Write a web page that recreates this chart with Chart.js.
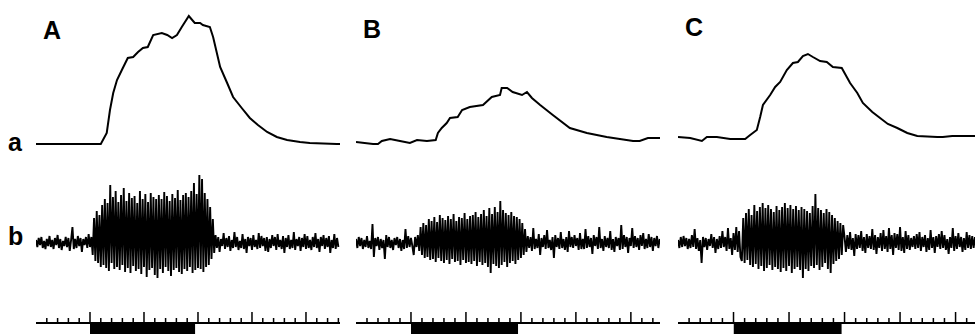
<!DOCTYPE html>
<html>
<head>
<meta charset="utf-8">
<script src="https://cdn.jsdelivr.net/npm/chart.js@4"></script>
<style>
  body { margin: 0; background: #fff; width: 975px; height: 334px; overflow: hidden; position: relative; }
  canvas { position: absolute; top: 0; }
  .lbl { position: absolute; font-family: "Liberation Sans", Arial, sans-serif; font-weight: bold; font-size: 25px; color: #000; line-height: 1; }
</style>
</head>
<body>
<div class="lbl" style="left:43px;top:18px;">A</div>
<div class="lbl" style="left:363px;top:17px;">B</div>
<div class="lbl" style="left:685px;top:15px;">C</div>
<div class="lbl" style="left:8px;top:130px;">a</div>
<div class="lbl" style="left:8px;top:224px;">b</div>
<canvas id="panelA" width="304" height="334" style="left:36px"></canvas>
<canvas id="panelB" width="304" height="334" style="left:356px"></canvas>
<canvas id="panelC" width="297" height="334" style="left:678px"></canvas>
<script>
// time in s, force (a) in arbitrary units, EMG (b) in arbitrary units sampled every 0.025 s
const emgStep = 0.025;

// stimulus timing + time scale ticks
const stimOn = 1.0;
const stimOff = 2.95;
const scaleMajor = [1, 2, 3, 4, 5];
const scaleMinor = [0.2, 0.4, 0.6, 0.8, 1.2, 1.4, 1.6, 1.8, 2.2, 2.4, 2.6, 2.8,
  3.2, 3.4, 3.6, 3.8, 4.2, 4.4, 4.6, 4.8, 5.2, 5.4, 5.6];

// Panel A
const forceTimeA = [0, 1.20, 1.31, 1.37, 1.43, 1.50, 1.59, 1.70, 1.80, 1.89, 1.98, 2.07, 2.17, 2.33, 2.43,
  2.52, 2.61, 2.70, 2.83, 2.94, 3.04, 3.09, 3.22, 3.28, 3.41, 3.54, 3.65, 3.81, 3.96, 4.11, 4.28,
  4.46, 4.65, 4.89, 5.07, 5.57, 5.63];
const forceA = [0, 0, 11, 34, 51, 64, 74, 86, 87, 92, 96, 97, 109, 111, 109,
  106, 109, 117, 128, 121, 121, 119, 117, 107, 77, 61, 47, 36, 26, 19, 12,
  7, 4, 2, 1, 0, 0];
const emgA = [
  3, -4, 5, -2, 6, -5, 2, -6, 4, -3,
  7, -4, 3, -6, 5, -2, 8, -5, 4, -7,
  2, -3, 6, -4, 5, -8, 3, 16, -6, 4,
  -5, 7, -3, 5, -9, 4, -2, 6, -5, 9, -4, 6,
  -12, 25, -18, 32, -20, 28, -24, 38, -22, 44,
  -25, 40, -28, 58, -20, 46, -26, 52, -24, 41,
  -27, 48, -22, 55, -29, 42, -25, 50, -30, 45,
  -23, 47, -28, 40, -26, 52, -31, 44, -24, 49,
  -34, 41, -27, 50, -25, 46, -32, 44, -35, 48,
  -26, 44, -30, 51, -24, 47, -28, 42, -33, 49,
  -27, 45, -25, 53, -29, 43, -31, 48, -26, 50,
  -28, 46, -24, 52, -30, 60, -27, 49, -25, 68,
  -26, 64, -29, 50, -24, 44, -22, 36, -16, 24, -10,
  8, -5, 6, -9, 4, -3, 10, -6, 5, -4,
  7, -8, 3, -5, 11, -4, 6, -7, 2, -5,
  9, -6, 4, -10, 6, -3, 5, -7, 8, -4,
  3, -6, 10, -5, 7, -3, 5, -8, 6, -9,
  4, -5, 8, -3, 6, -7, 9, -4, 3, -6,
  7, -10, 5, -4, 8, -6, 3, -5, 11, -7,
  4, -3, 6, -8, 5, -4, 9, -6, 7, -5,
  3, -7, 6, -4, 10, -5, 4, -9, 6, -3,
  8, -6, 5, -4, 7, -10, 3, -5, 9, -6,
  5, -4];

// Panel B
const forceTimeB = [0, 0.31, 0.40, 0.47, 0.62, 0.80, 0.98, 1.11, 1.29, 1.45, 1.49, 1.56, 1.65, 1.71, 1.85,
  1.93, 2.07, 2.31, 2.47, 2.62, 2.65, 2.75, 2.85, 3.02, 3.11, 3.20, 3.35, 3.58, 3.89, 4.20, 4.56,
  5.04, 5.16, 5.31, 5.53];
const forceB = [2, 0, 0, 3, 5, 3, 1, 4, 3, 4, 11, 16, 21, 26, 27,
  34, 37, 39, 47, 49, 56, 56, 52, 49, 52, 46, 39, 29, 16, 11, 7,
  3, 3, 6, 6];
const emgB = [
  4, -5, 6, -3, 5, -6, 3, -4, 7, -5,
  2, -6, 19, -14, 5, -3, 6, -7, 4, -5,
  3, -16, 8, -4, 6, -5, 3, -7, 5, -2,
  6, -5, 4, -8, 3, -6, 14, -5, 7, -4,
  5, -3, -12, 6, -4, 8,
  -8, 16, -12, 20, -15, 18, -14, 24, -17, 22,
  -16, 26, -19, 21, -15, 28, -18, 25, -20, 23,
  -17, 27, -21, 24, -16, 29, -19, 22, -18, 26,
  -22, 25, -17, 30, -20, 24, -19, 27, -21, 28,
  -18, 31, -23, 26, -19, 29, -22, 33, -20, 27,
  -24, 35, -30, 29, -21, 36, -23, 31, -25, 42,
  -22, 33, -19, 30, -24, 28, -20, 31, -18, 27,
  -21, 26, -17, 24, -15, 20, -12, 14, -9,
  7, -5, 6, -8, 15, -6, 4, -5, 9, -12,
  5, -4, 8, -6, 13, -5, 3, -7, 6, -15,
  8, -4, 5, -6, 11, -5, 4, -7, 6, -9,
  12, -4, 6, -5, 8, -3, 5, -7, 10, -6,
  4, -6, 14, -5, 7, -4, 5, -11, 8, -3,
  6, -6, 16, -5, 4, -8, 7, -4, 5, -5,
  12, -7, 4, -9, 6, -3, 5, -7, 18, -6,
  8, -4, 6, -10, 5, -3, 15, -5, 7, -4,
  5, -7, 8, -3, 10, -6, 4, -5, 9, -4,
  6, -8, 5, -3, 7, -5, 4];

// Panel C
const forceTimeC = [0, 0.22, 0.43, 0.52, 0.70, 0.94, 1.21, 1.30, 1.42, 1.48, 1.53, 1.66, 1.75, 1.84, 1.96,
  2.07, 2.16, 2.25, 2.34, 2.43, 2.56, 2.68, 2.79, 2.95, 3.10, 3.23, 3.33, 3.50, 3.64, 3.78, 3.95,
  4.13, 4.31, 4.67, 4.77, 4.94, 5.35];
const forceC = [7, 6, 3, 7, 7, 5, 5, 9, 14, 27, 39, 49, 57, 62, 74,
  81, 82, 88, 90, 87, 83, 82, 77, 76, 61, 51, 41, 32, 26, 20, 16,
  11, 8, 7, 7, 8, 8];
const emgC = [
  3, -5, 6, -4, 7, -3, 5, -6, 4, -5,
  8, -4, 14, -6, 5, -8, 3, -20, 6, -4,
  5, -7, 4, -3, 9, -5, 6, -10, 4, -6,
  7, -5, 12, -4, 6, -8, 15, -6, 5, -12,
  10, -7, 16, -9, 12, -14,
  -18, 25, -20, 30, -17, 34, -22, 28, -24, 38,
  -21, 32, -26, 36, -23, 40, -28, 35, -25, 38,
  -22, 34, -27, 31, -24, 37, -26, 33, -29, 36,
  -25, 40, -28, 35, -23, 38, -30, 34, -26, 37,
  -24, 33, -27, 36, -35, 34, -26, 32, -28, 30,
  -23, 37, -25, 49, -22, 35, -27, 33, -24, 30,
  -20, 34, -26, 31, -30, 28, -21, 25, -18, 22,
  -16, 20, -12, 18, 6,
  -9, 8, -6, 11, -7, 5, -13, 9, -6, 8,
  -5, 12, -8, 6, -10, 9, -5, 7, -6, 14,
  -7, 8, -11, 6, -5, 10, -8, 13, -6, 7,
  -9, 15, -6, 8, -12, 10, -5, 9, -7, 16,
  -8, 6, -10, 12, -6, 8, -7, 5, -4, 7,
  -6, 9, -5, 11, -8, 6, -4, 8, -9, 5,
  -7, 13, -5, 6, -10, 7, -4, 9, -6, 12,
  -5, 8, -7, 4, -11, 6, -5, 15, -8, 7,
  -6, 10, -4, 6, -9, 5, -7, 11, -5, 8,
  -6, 7, -5, 6];

function toPoints(xs, ys) {
  return xs.map((x, i) => ({ x: x, y: ys[i] }));
}

function makePanel(canvasId, xMax, forceTime, force, emg) {
  const ctx = document.getElementById(canvasId).getContext('2d');

  const emgPts = emg.map((v, i) => ({ x: i * emgStep, y: v }));

  // tick marks on the time scale, broken apart with null points
  const tickPts = [];
  scaleMajor.filter(t => t <= xMax).forEach(t => {
    tickPts.push({ x: t, y: 0 }, { x: t, y: 11 }, { x: t, y: null });
  });
  scaleMinor.filter(t => t <= xMax).forEach(t => {
    tickPts.push({ x: t, y: 0 }, { x: t, y: 5 }, { x: t, y: null });
  });

  new Chart(ctx, {
    type: 'line',
    data: {
      datasets: [
        {
          data: toPoints(forceTime, force),
          yAxisID: 'ya',
          borderColor: '#000',
          borderWidth: 2,
          pointRadius: 0,
          tension: 0
        },
        {
          data: emgPts,
          yAxisID: 'yb',
          borderColor: '#000',
          borderWidth: 1.9,
          borderJoinStyle: 'bevel',
          pointRadius: 0,
          tension: 0
        },
        {
          data: [{ x: 0, y: 0 }, { x: xMax, y: 0 }],
          yAxisID: 'yc',
          borderColor: '#000',
          borderWidth: 2,
          pointRadius: 0
        },
        {
          data: tickPts,
          yAxisID: 'yc',
          borderColor: '#000',
          borderWidth: 1.5,
          pointRadius: 0,
          spanGaps: false
        },
        {
          // stimulus bar under the time scale
          data: [{ x: stimOn, y: 0 }, { x: stimOff, y: 0 }],
          yAxisID: 'yc',
          borderColor: '#000',
          borderWidth: 0,
          backgroundColor: '#000',
          fill: { value: -11 },
          pointRadius: 0
        }
      ]
    },
    options: {
      responsive: false,
      animation: false,
      devicePixelRatio: 1,
      layout: { padding: 0 },
      plugins: { legend: { display: false }, tooltip: { enabled: false } },
      scales: {
        x: { type: 'linear', min: 0, max: xMax, display: false },
        yc: { type: 'linear', position: 'left', stack: 'rows', stackWeight: 44, min: -11, max: 33, display: false },
        yb: { type: 'linear', position: 'left', stack: 'rows', stackWeight: 125, min: -47, max: 78, display: false },
        ya: { type: 'linear', position: 'left', stack: 'rows', stackWeight: 165, min: -21, max: 144, display: false }
      }
    }
  });
}

makePanel('panelA', 5.63, forceTimeA, forceA, emgA);
makePanel('panelB', 5.53, forceTimeB, forceB, emgB);
makePanel('panelC', 5.35, forceTimeC, forceC, emgC);
</script>
</body>
</html>
